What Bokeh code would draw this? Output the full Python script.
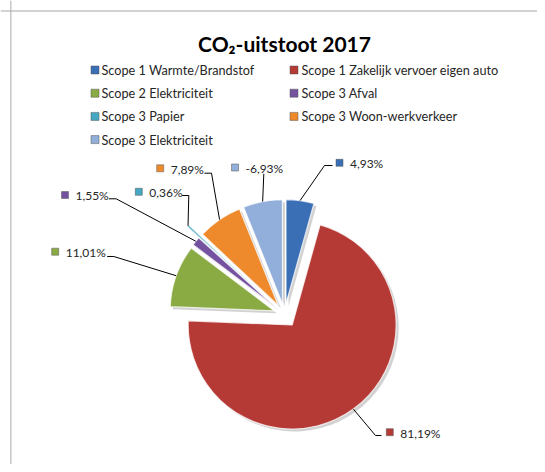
import math
from bokeh.plotting import figure
from bokeh.models import Range1d, Span, ColumnDataSource
from bokeh.core.properties import value
from bokeh.embed import file_html
from bokeh.resources import INLINE

# ---- data ----
title_text = "CO\u2082-uitstoot 2017"
categories = [
    "Scope 1 Warmte/Brandstof",
    "Scope 1 Zakelijk vervoer eigen auto",
    "Scope 2 Elektriciteit",
    "Scope 3 Afval",
    "Scope 3 Papier",
    "Scope 3 Woon-werkverkeer",
    "Scope 3 Elektriciteit",
]
shares = [4.93, 81.19, 11.01, 1.55, 0.36, 7.89, -6.93]
colors = ["#3a6fb5", "#b53a36", "#8aab44", "#7452a0", "#45a8c2", "#ef8a2c", "#92afdb"]

# ---- layout (image pixel coordinates) ----
W, H = 537, 464
def px(x):
    return x
def py(y):
    return H - y

CX, CY, R = 284, 314, 104
explode = [11, 13, 11, 11, 27, 11, 11]
label_sq = [(339, 162.3), (389.3, 431.7), (54.7, 251.2), (64.5, 194.5),
            (138.3, 191.3), (159.7, 167.8), (234.5, 167)]
label_elbow = [(324, 165), (375, 435), (113.3, 256), (115.7, 198.3),
               (188.3, 195), (211, 172.7), (263.3, 173.3)]
label_stub = [(332, 165), (381, 435), (106.7, 256), (108.3, 198.3),
              (181.7, 195), (204, 172.7), (263.3, 173.3)]
legend_sq_x = [94.5, 293.5]
legend_txt_x = [101, 301]
legend_row_y = [69.5, 92.7, 115.9, 139.1]

FONT = "Lato"
TXT = "#262626"

p = figure(width=W, height=H, x_range=Range1d(0, W), y_range=Range1d(0, H),
           output_backend="svg", toolbar_location=None,
           x_axis_type=None, y_axis_type=None, min_border=0)
p.grid.visible = False
p.outline_line_color = None
p.background_fill_color = "white"
p.border_fill_color = "white"

# chart area frame (top and left edges visible)
p.add_layout(Span(location=px(10.3), dimension="height", line_color="#c8c8c8", line_width=1.5))
p.add_layout(Span(location=py(10.5), dimension="width", line_color="#a6a6a6", line_width=1))

# ---- pie geometry from the values ----
sizes = [abs(v) for v in shares]
total = sum(sizes)
xs, ys, starts, ends, arc_x, arc_y = [], [], [], [], [], []
cum = 0.0
for s, e in zip(sizes, explode):
    a0 = cum / total * 360.0
    a1 = (cum + s) / total * 360.0
    cum += s
    mid = math.radians(90 - (a0 + a1) / 2)
    x = px(CX) + e * math.cos(mid)
    y = py(CY) + e * math.sin(mid)
    xs.append(x)
    ys.append(y)
    starts.append(math.radians(90 - a1))
    ends.append(math.radians(90 - a0))
    arc_x.append(x + R * math.cos(mid))
    arc_y.append(y + R * math.sin(mid))

src = ColumnDataSource(dict(x=xs, y=ys, s=starts, e=ends, color=colors, cat=categories,
                            sx=[x + 2.5 for x in xs], sy=[y - 2.5 for y in ys]))

# shadows
p.wedge(x="sx", y="sy", radius=R, start_angle="s", end_angle="e", source=src,
        fill_color="#7f7f7f", fill_alpha=0.35, line_color=None)
# thin papier slice first (underneath), then the rest
order = [4, 0, 1, 2, 3, 5, 6]
for i in order:
    p.wedge(x=xs[i], y=ys[i], radius=R, start_angle=starts[i], end_angle=ends[i],
            fill_color=colors[i], line_color="white", line_alpha=0.75, line_width=1.2)

# ---- data labels ----
labels = [("%.2f%%" % v).replace(".", ",") for v in shares]
lx = [[ax, px(el[0]), px(st[0])] for ax, el, st in zip(arc_x, label_elbow, label_stub)]
ly = [[ay, py(el[1]), py(st[1])] for ay, el, st in zip(arc_y, label_elbow, label_stub)]
p.multi_line(xs=lx, ys=ly, line_color="black", line_width=1)

p.scatter(x=[px(a) for a, b in label_sq], y=[py(b) for a, b in label_sq], marker="square",
          size=7, fill_color=colors, line_color="#555555", line_alpha=0.5)
p.text(x=[px(a) + 10.5 for a, b in label_sq], y=[py(b) - 0.8 for a, b in label_sq], text=labels,
       text_font=value(FONT), text_font_size="12px", text_color=TXT,
       text_baseline="middle", text_align="left")

# ---- legend ----
lg_x = [px(legend_sq_x[i % 2]) for i in range(len(categories))]
lg_tx = [px(legend_txt_x[i % 2]) for i in range(len(categories))]
lg_y = [py(legend_row_y[i // 2]) for i in range(len(categories))]
p.scatter(x=lg_x, y=lg_y, marker="square", size=8, fill_color=colors,
          line_color="#555555", line_alpha=0.5)
p.text(x=lg_tx, y=lg_y, text=categories, text_font=value(FONT), text_font_size="12.7px",
       text_color=TXT, text_baseline="middle", text_align="left")

# ---- title ----
p.text(x=[px(284)], y=[py(42.7)], text=[title_text], text_font=value(FONT),
       text_font_size="21px", text_font_style="bold", text_color="black",
       text_baseline="alphabetic", text_align="center")

open("out.html", "w").write(file_html(p, INLINE))
